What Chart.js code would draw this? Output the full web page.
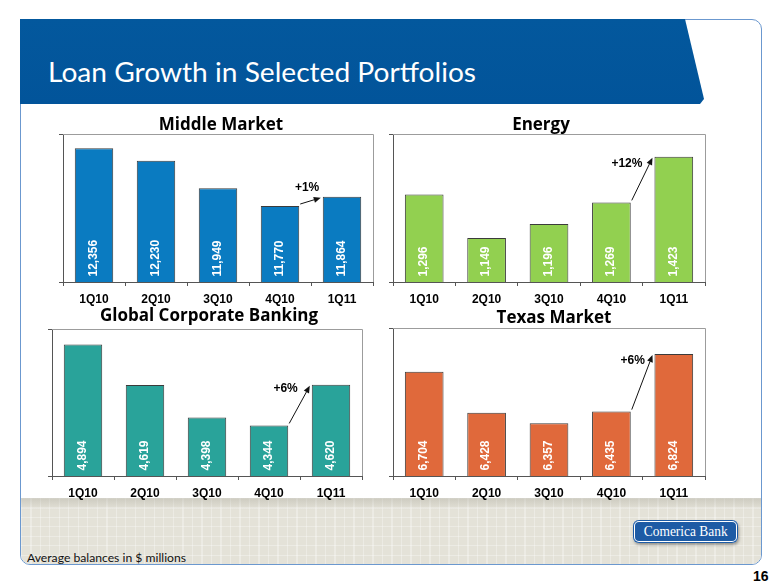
<!DOCTYPE html>
<html>
<head>
<meta charset="utf-8">
<script src="https://cdn.jsdelivr.net/npm/chart.js@4.4.1/dist/chart.umd.min.js"></script>
<style>
html,body{margin:0;padding:0;background:#fff;}
body{width:780px;height:585px;position:relative;overflow:hidden;}
.abs{position:absolute;}
#panel{left:20px;top:19px;width:742px;height:546px;box-sizing:border-box;border:1px solid #6b98cf;border-radius:0 10px 10px 10px;}
#footer{left:21px;top:498px;width:740px;height:66px;border-radius:0 0 9px 9px;
  background:
   linear-gradient(to bottom, rgba(170,168,155,0.4) 0px, rgba(170,168,155,0) 12px),
   repeating-linear-gradient(to right, rgba(255,255,255,0.3) 0 1px, transparent 1px 9.5px),
   repeating-linear-gradient(to bottom, rgba(255,255,255,0.3) 0 1px, transparent 1px 9.5px),
   #e4e2d8;}
#banner{left:20px;top:19px;width:684px;height:85px;background:linear-gradient(to bottom,#03589d,#02549a);
  clip-path:polygon(0 0,665px 0,684px 80px,680px 85px,0 85px);}
#title{left:48px;top:58px;font-family:Lato,sans-serif;font-size:27px;line-height:1;color:#fff;white-space:nowrap;transform-origin:0 0;}
#note{left:27px;top:552px;font-family:Lato,sans-serif;font-size:11px;line-height:1;color:#111;white-space:nowrap;transform-origin:0 0;}
#page{left:753px;top:569px;font-family:"Liberation Sans",Arial,sans-serif;font-weight:bold;font-size:14px;line-height:1;color:#000;}
#logo{left:633px;top:520px;width:105px;height:23px;background:#1d5ba5;border-radius:6px;
  box-shadow:inset 0 0 0 1px #1d5ba5, inset 0 0 0 2px #fff, 1px 2px 3px rgba(0,0,0,0.35);
  display:flex;align-items:center;justify-content:center;}
#logo span{font-family:"Liberation Serif","DejaVu Serif",serif;font-size:14px;color:#fff;white-space:nowrap;transform-origin:50% 50%;}
canvas{position:absolute;}
</style>
</head>
<body>
<div id="panel" class="abs"></div>
<div id="footer" class="abs"></div>
<div id="banner" class="abs"></div>
<div id="title" class="abs">Loan Growth in Selected Portfolios</div>
<div id="note" class="abs">Average balances in $ millions</div>
<div id="logo" class="abs"><span>Comerica Bank</span></div>
<div id="page" class="abs">16</div>
<canvas id="cMM"></canvas>
<canvas id="cEN"></canvas>
<canvas id="cGC"></canvas>
<canvas id="cTX"></canvas>
<script>
// ---- data ----
const quarters = ['1Q10', '2Q10', '3Q10', '4Q10', '1Q11'];
const middleMarket = [12356, 12230, 11949, 11770, 11864];
const energy = [1296, 1149, 1196, 1269, 1423];
const globalCorporate = [4894, 4619, 4398, 4344, 4620];
const texasMarket = [6704, 6428, 6357, 6435, 6824];
const growthLabels = ['+1%', '+12%', '+6%', '+6%'];
const panelTitles = ['Middle Market', 'Energy', 'Global Corporate Banking', 'Texas Market'];
const axisRanges = [[11000, 12500], [1000, 1500], [4000, 5000], [6000, 7000]];

// ---- text fitting ----
function fitWidth(el, w) {
  const r = el.getBoundingClientRect().width;
  if (r > 0) el.style.transform = 'scaleX(' + (w / r) + ')';
}
fitWidth(document.getElementById('title'), 428);
fitWidth(document.getElementById('note'), 159);
fitWidth(document.querySelector('#logo span'), 84);

// ---- layout constants ----
const YW = 5, PADL = 6, PADR = 8, PADT = 2, XH = 26, PADB = 2, TSIZE = 17;
const AXIS = '#555555';
const LABEL_FONT = '"Liberation Sans", Arial, sans-serif';

function fmt(v) {
  return String(v).replace(/\B(?=(\d{3})+(?!\d))/g, ',');
}

function makeChart(id, title, labels, values, range, color, growth, g) {
  const cv = document.getElementById(id);
  const left = g.L - YW - PADL;
  const top = g.T - g.gap - TSIZE - PADT;
  const w = g.R + PADR - left;
  const h = g.B + XH + PADB - top;
  cv.style.left = left + 'px'; cv.style.top = top + 'px';
  cv.width = w; cv.height = h;
  cv.style.width = w + 'px'; cv.style.height = h + 'px';

  const frame = {
    id: 'frame_' + id,
    beforeDatasetsDraw(chart) {
      const {ctx, chartArea: a} = chart;
      ctx.save();
      ctx.strokeStyle = '#9c9c9c'; ctx.lineWidth = 1;
      ctx.beginPath();
      ctx.moveTo(Math.round(a.left), Math.round(a.top) + 0.5);
      ctx.lineTo(Math.round(a.right) + 0.5, Math.round(a.top) + 0.5);
      ctx.lineTo(Math.round(a.right) + 0.5, Math.round(a.bottom));
      ctx.stroke();
      ctx.restore();
    }
  };
  const titleShift = {
    id: 'tshift_' + id,
    afterLayout(chart) {
      const tb = chart.titleBlock; const a = chart.chartArea;
      if (!tb) return;
      const tw = tb.right - tb.left;
      const c = (a.left + a.right) / 2 + g.dx;
      tb.left = c - tw / 2; tb.right = c + tw / 2;
    }
  };
  const valueLabels = {
    id: 'vals_' + id,
    afterDatasetsDraw(chart) {
      const {ctx} = chart;
      const meta = chart.getDatasetMeta(0);
      const yScale = chart.scales.y;
      const basePx = yScale.getPixelForValue(range[0]);
      ctx.save();
      ctx.fillStyle = '#ffffff';
      ctx.font = 'bold 12px ' + LABEL_FONT;
      ctx.textAlign = 'left'; ctx.textBaseline = 'middle';
      meta.data.forEach((bar, i) => {
        ctx.save();
        ctx.translate(bar.x - 0.5, basePx - 5.5);
        ctx.rotate(-Math.PI / 2);
        ctx.fillText(fmt(values[i]), 0, 0);
        ctx.restore();
      });
      ctx.restore();
    }
  };
  const growthArrow = {
    id: 'arrow_' + id,
    afterDatasetsDraw(chart) {
      const {ctx} = chart;
      const meta = chart.getDatasetMeta(0);
      const b4 = meta.data[3], b5 = meta.data[4];
      const sx = b4.x + b4.width / 2 + 1, sy = b4.y - 2;
      const ex = b5.x - b5.width / 2 - 2, ey = b5.y + 1;
      const ang = Math.atan2(ey - sy, ex - sx);
      const hl = 7, hw = 3;
      ctx.save();
      ctx.strokeStyle = '#111'; ctx.fillStyle = '#111'; ctx.lineWidth = 1;
      ctx.beginPath();
      ctx.moveTo(sx, sy);
      ctx.lineTo(ex - hl * Math.cos(ang), ey - hl * Math.sin(ang));
      ctx.stroke();
      ctx.beginPath();
      ctx.moveTo(ex, ey);
      ctx.lineTo(ex - hl * Math.cos(ang) + hw * Math.sin(ang), ey - hl * Math.sin(ang) - hw * Math.cos(ang));
      ctx.lineTo(ex - hl * Math.cos(ang) - hw * Math.sin(ang), ey - hl * Math.sin(ang) + hw * Math.cos(ang));
      ctx.closePath(); ctx.fill();
      ctx.font = 'bold 12px ' + LABEL_FONT;
      ctx.textAlign = 'right'; ctx.textBaseline = 'middle';
      ctx.fillStyle = '#000';
      ctx.fillText(growth, ex + g.lx, ey + g.ly);
      ctx.restore();
    }
  };

  return new Chart(cv, {
    type: 'bar',
    data: {
      labels: labels,
      datasets: [{
        data: values,
        backgroundColor: color,
        borderColor: 'rgba(25,25,25,0.85)',
        borderWidth: 1,
        borderSkipped: false,
        barPercentage: 0.62,
        categoryPercentage: 1
      }]
    },
    options: {
      responsive: false, animation: false, devicePixelRatio: 1,
      layout: {padding: {left: PADL, right: PADR, top: PADT, bottom: PADB}},
      plugins: {
        legend: {display: false},
        tooltip: {enabled: false},
        title: {
          display: true, text: title, color: '#000',
          font: {family: '"Open Sans", Lato, sans-serif', size: TSIZE, weight: 'bold', lineHeight: 1},
          padding: {top: 0, bottom: g.gap}
        }
      },
      scales: {
        x: {
          grid: {display: true, drawOnChartArea: false, drawTicks: true, tickLength: 4, color: AXIS},
          border: {display: true, color: AXIS, width: 1},
          ticks: {color: '#000', font: {family: LABEL_FONT, size: 12, weight: 'bold'}, padding: 6, maxRotation: 0, autoSkip: false},
          afterFit(s) { s.height = XH; }
        },
        y: {
          min: range[0], max: range[1],
          ticks: {display: false, stepSize: range[1] - range[0]},
          grid: {display: true, drawOnChartArea: false, drawTicks: true, tickLength: 4, color: AXIS},
          border: {display: true, color: AXIS, width: 1},
          afterFit(s) { s.width = YW; }
        }
      }
    },
    plugins: [frame, titleShift, valueLabels, growthArrow]
  });
}

makeChart('cMM', panelTitles[0], quarters, middleMarket, axisRanges[0], '#0a7bc1', growthLabels[0],
  {L: 63, T: 134, R: 373, B: 282, gap: 0, dx: 3, lx: -1.5, ly: -10.5});
makeChart('cEN', panelTitles[1], quarters, energy, axisRanges[1], '#92d050', growthLabels[1],
  {L: 393, T: 134, R: 705, B: 282, gap: 0, dx: -8, lx: -10, ly: 6});
makeChart('cGC', panelTitles[2], quarters, globalCorporate, axisRanges[2], '#29a39a', growthLabels[2],
  {L: 52, T: 329, R: 362, B: 476, gap: 4, dx: 2, lx: -12, ly: 3});
makeChart('cTX', panelTitles[3], quarters, texasMarket, axisRanges[3], '#e0693b', growthLabels[3],
  {L: 393, T: 328, R: 705, B: 476, gap: 1, dx: 5, lx: -7.5, ly: 6});
</script>
</body>
</html>
